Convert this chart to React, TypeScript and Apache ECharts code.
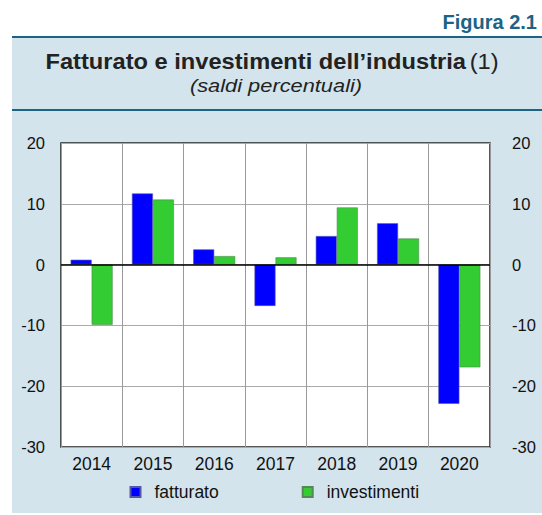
import React, { useEffect, useRef } from "react";
import * as echarts from "echarts";

const categories = ["2014", "2015", "2016", "2017", "2018", "2019", "2020"];
const fatturato = [0.8, 11.7, 2.5, -6.8, 4.7, 6.8, -22.9];
const investimenti = [-9.9, 10.7, 1.4, 1.2, 9.4, 4.3, -16.9];
const seriesNames = ["fatturato", "investimenti"];
const figureLabel = "Figura 2.1";
const titleMain = "Fatturato e investimenti dell’industria";
const titleNote = "(1)";
const subtitle = "(saldi percentuali)";

const FONT = "'Liberation Sans', Arial, Helvetica, sans-serif";

export default function App() {
  const ref = useRef<HTMLDivElement>(null);
  useEffect(() => {
    if (!ref.current) return;
    const chart = echarts.init(ref.current, null, { renderer: "svg" });
    const yAxisBase = {
      type: "value",
      min: -30,
      max: 20,
      interval: 10,
      axisLine: { show: false },
      axisTick: { show: false },
    };
    chart.setOption({
      animation: false,
      textStyle: { fontFamily: FONT },
      graphic: [
        {
          type: "rect",
          z: -10,
          shape: { x: 12, y: 37, width: 540, height: 476 },
          style: { fill: "#d3e4ed" },
          silent: true,
        },
        {
          type: "line",
          shape: { x1: 12, y1: 37, x2: 542, y2: 37 },
          style: { stroke: "#1d6384", lineWidth: 2 },
        },
        {
          type: "line",
          shape: { x1: 12, y1: 110, x2: 542, y2: 110 },
          style: { stroke: "#1d6384", lineWidth: 2 },
        },
        {
          type: "text",
          x: 537,
          y: 22,
          style: {
            text: figureLabel,
            align: "right",
            verticalAlign: "middle",
            fill: "#1d6384",
            font: `bold 20px ${FONT}`,
          },
        },
        {
          type: "text",
          x: 272,
          y: 62,
          scaleX: 1.1,
          style: {
            text: `{b|${titleMain}} {n|${titleNote}}`,
            align: "center",
            verticalAlign: "middle",
            rich: {
              b: { font: `bold 21.5px ${FONT}`, fill: "#222" },
              n: { font: `21.5px ${FONT}`, fill: "#222" },
            },
          },
        },
        {
          type: "text",
          x: 276,
          y: 86,
          scaleX: 1.18,
          style: {
            text: subtitle,
            align: "center",
            verticalAlign: "middle",
            font: `italic 18.5px ${FONT}`,
            fill: "#222",
          },
        },
      ],
      grid: {
        left: 61,
        top: 143,
        width: 429,
        height: 304,
        show: true,
        backgroundColor: "#ffffff",
        borderColor: "#222",
        borderWidth: 1.5,
      },
      legend: {
        left: 129.5,
        top: 483,
        padding: 0,
        itemWidth: 10,
        itemHeight: 10,
        itemGap: 83,
        icon: "rect",
        data: seriesNames,
        textStyle: { color: "#111", fontSize: 17.5, fontFamily: FONT, padding: [0, 0, 0, 9] },
      },
      xAxis: {
        type: "category",
        data: categories,
        boundaryGap: true,
        axisLine: { show: false, onZero: false },
        axisTick: { show: false },
        axisLabel: { color: "#111", fontSize: 17.5, fontFamily: FONT, margin: 8 },
        splitLine: { show: true, lineStyle: { color: "#999", width: 1 } },
      },
      yAxis: [
        {
          ...yAxisBase,
          position: "left",
          axisLabel: { color: "#111", fontSize: 16.5, fontFamily: FONT, margin: 16 },
          splitLine: { show: true, lineStyle: { color: "#aaa", width: 1 } },
        },
        {
          ...yAxisBase,
          position: "right",
          axisLabel: { color: "#111", fontSize: 16.5, fontFamily: FONT, margin: 22 },
          splitLine: { show: false },
        },
      ],
      series: [
        {
          name: seriesNames[0],
          type: "bar",
          data: fatturato,
          barWidth: 21,
          barGap: "0%",
          itemStyle: { color: "#0000ff", borderColor: "#5555aa", borderWidth: 0.6 },
          markLine: {
            silent: true,
            symbol: "none",
            label: { show: false },
            lineStyle: { color: "#000", width: 1.5, type: "solid" },
            data: [{ yAxis: 0 }],
          },
        },
        {
          name: seriesNames[1],
          type: "bar",
          data: investimenti,
          barWidth: 21,
          barGap: "0%",
          itemStyle: { color: "#33cc33", borderColor: "#558855", borderWidth: 0.6 },
        },
      ],
    });
    return () => chart.dispose();
  }, []);
  return (
    <div
      ref={ref}
      style={{ position: "absolute", left: 0, top: 0, width: 542, height: 515, background: "#fff" }}
    />
  );
}
